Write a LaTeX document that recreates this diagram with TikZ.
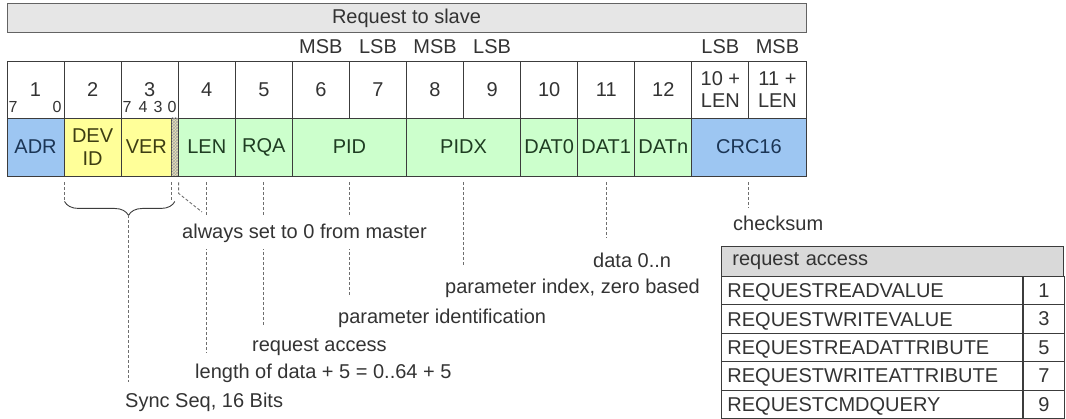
\documentclass[tikz,border=0pt]{standalone}
\usepackage{fontspec}
\setmainfont{Liberation Sans}
\usepackage{xcolor}
\usepackage{tikz}
\usetikzlibrary{calc,decorations.pathreplacing,patterns}
\definecolor{linec}{HTML}{3C3C3C}
\definecolor{titlebg}{HTML}{E6E6E6}
\definecolor{headbg}{HTML}{D9D9D9}
\definecolor{adrblue}{HTML}{9DC6F2}
\definecolor{devyel}{HTML}{FFFF99}
\definecolor{fldgreen}{HTML}{CCFFCC}
\definecolor{hatchbg}{HTML}{EAE4B4}
\definecolor{txt}{HTML}{333333}
\definecolor{helpc}{HTML}{6E6E6E}
\definecolor{bluetxt}{HTML}{1B3555}
\definecolor{yeltxt}{HTML}{3D3D12}
\definecolor{greentxt}{HTML}{1F3D22}
\newcommand{\diafont}{\fontsize{20}{21.5}\selectfont}
\newcommand{\bitfont}{\fontsize{16}{18}\selectfont}
\tikzset{
  bar/.style={draw=linec!80, fill=titlebg, line width=1pt, minimum height=29pt, inner sep=0pt, font=\diafont, text=txt},
  num/.style={draw=linec, fill=white, line width=0.9pt, minimum height=57pt, inner sep=0pt, font=\diafont, text=txt, align=center},
  field/.style={draw=linec, line width=0.9pt, minimum height=58pt, inner sep=0pt, font=\diafont, align=center},
  bit/.style={font=\bitfont, text=txt, inner sep=0pt},
  byte/.style={font=\diafont, text=txt, inner sep=0pt},
  help/.style={draw=helpc, line width=0.9pt, dash pattern=on 3pt off 2pt},
  brc/.style={draw=linec, line width=0.9pt, decorate, decoration={brace, mirror, amplitude=14pt, aspect=0.58}},
  note/.style={font=\diafont, text=txt, inner sep=0pt, anchor=west, text height=15pt, text depth=4pt},
  thead/.style={draw=linec, fill=headbg, line width=0.9pt, minimum height=30pt, inner xsep=11pt, inner ysep=0pt, text width=320pt, align=left, anchor=north west, font=\diafont, text=txt},
  tcell/.style={draw=linec, line width=0.9pt, minimum height=28.4pt, inner xsep=6pt, inner ysep=0pt, text width=289pt, align=left, anchor=north west, font=\diafont, text=txt, text height=14pt, text depth=0pt},
  tval/.style={draw=linec, line width=0.9pt, minimum height=28.4pt, minimum width=41pt, inner sep=0pt, anchor=north west, font=\diafont, text=txt},
}

\begin{document}
\begin{tikzpicture}[x=1pt,y=-1pt]
  \useasboundingbox (0,0) rectangle (1066,419);
  \def\cw{57.07}

  % title and byte order
  \node[bar, minimum width=799pt] (title) at (406.5,18.5) {Request to slave};
  \foreach \c/\t/\nm in {6/MSB/m6, 7/LSB/l7, 8/MSB/m8, 9/LSB/l9, 13/LSB/l13, 14/MSB/m14}
    \node[byte] (\nm) at ({7+(\c-0.5)*\cw},47) {\t};

  % byte numbers
  \foreach \i in {1,...,12}
    \node[num, minimum width=\cw pt] (n\i) at ({7+(\i-0.5)*\cw},89.5) {\i};
  \node[num, minimum width=\cw pt] (n13) at ({7+12.5*\cw},89.5) {10 +\\LEN};
  \node[num, minimum width=\cw pt] (n14) at ({7+13.5*\cw},89.5) {11 +\\LEN};

  % bit positions
  \node[bit] (b7) at (13,107) {7};
  \node[bit] (b0) at (57,107) {0};
  \foreach \x/\t [count=\k] in {127/7,143/4,158/3,172/0}
    \node[bit] (v\k) at (\x,107) {\t};

  % fields
  \node[field, fill=adrblue, text=bluetxt, minimum width=\cw pt] (adr) at ({7+0.5*\cw},147) {ADR};
  \node[field, fill=devyel, text=yeltxt, minimum width=\cw pt] (devid) at ({7+1.5*\cw},147) {DEV\\[2pt]ID};
  \node[field, fill=devyel, text=yeltxt, minimum width=50.36pt] (ver) at (146.32,147) {VER};
  \node[field, fill=hatchbg, postaction={pattern=crosshatch, pattern color=linec!45}, minimum width=6.71pt] (hatch) at (174.86,147) {};
  \foreach \nm/\t/\c in {len/LEN/3.5, rqa/RQA/4.5, dat0/DAT0/9.5, dat1/DAT1/10.5, datn/DATn/11.5}
    \node[field, fill=fldgreen, text=greentxt, minimum width=\cw pt] (\nm) at ({7+\c*\cw},147) {\t};
  \node[field, fill=fldgreen, text=greentxt, minimum width=114.14pt] (pid) at ({7+6*\cw},147) {PID};
  \node[field, fill=fldgreen, text=greentxt, minimum width=114.14pt] (pidx) at ({7+8*\cw},147) {PIDX};
  \node[field, fill=adrblue, text=bluetxt, minimum width=114.14pt] (crc) at ({7+13*\cw},147) {CRC16};

  % notes
  \node[note] (chktxt) at (733,225) {checksum};
  \node[note] (datatxt) at (593,262) {data 0..n};
  \node[note] (pidxtxt) at (445,288) {parameter index, zero based};
  \node[note] (pidtxt) at (338,318) {parameter identification};
  \node[note] (reqtxt) at (252,346) {request access};
  \node[note] (lentxt) at (195,373) {length of data + 5 = 0..64 + 5};
  \node[note] (sync) at (125,402) {Sync Seq, 16 Bits};

  % leads
  \foreach \f/\t/\s in {len/lentxt/10.5, rqa/reqtxt/11.5, pid/pidtxt/13.5, pidx/pidxtxt/11.5, dat1/datatxt/14.5, crc/chktxt/7.5}
    \draw[help, shorten <=6pt, shorten >=\s pt] (\f.south) -- (\f.south |- \t.north);

  % sync brace
  \coordinate (bl) at ($(adr.south east)+(0,25)$);
  \coordinate (br) at ($(hatch.south)+(0,25)$);
  \coordinate (tip) at ($(bl)!0.58!(br)+(0,14)$);
  \draw[help, shorten <=6pt] (adr.south east) -- (bl);
  \draw[help, shorten <=6pt] (hatch.south west) -- (hatch.south west |- bl);
  \draw[brc] (bl) -- (br);
  \draw[help, shorten >=10.5pt] (tip) -- (tip |- sync.north);

  % reserved bits
  \coordinate (hz) at (202,212);
  \draw[help, shorten <=6pt] (hatch.south east) -- ($(hatch.south east)+(0,17)$) -- (hz);
  \node[note, fill=white, inner ysep=7pt, inner xsep=2pt] (alw) at (180,233) {always set to 0 from master};

  % request access table
  \node[thead] (rahead) at (721,246) {request access};
  \foreach \t/\v [count=\k] in {REQUESTREADVALUE/1, REQUESTWRITEVALUE/3, REQUESTREADATTRIBUTE/5, REQUESTWRITEATTRIBUTE/7, REQUESTCMDQUERY/9}{
    \node[tcell] (r\k) at (721,{276+(\k-1)*28.4}) {\t};
    \node[tval] (k\k) at (r\k.north east) {\v};
  }
\end{tikzpicture}
\end{document}
